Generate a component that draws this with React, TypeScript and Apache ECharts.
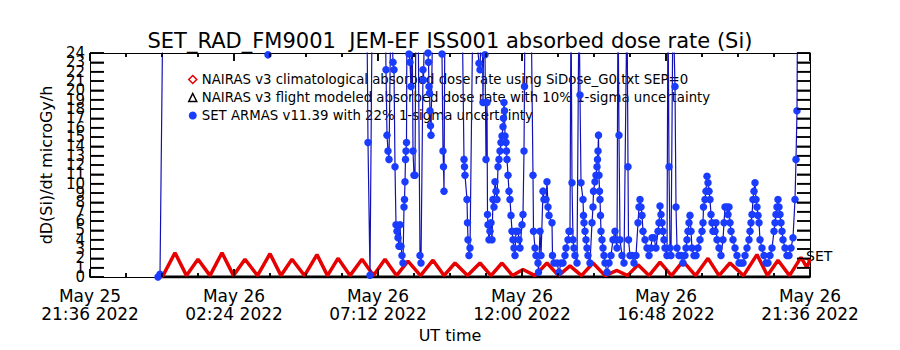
import React, { useEffect, useRef } from "react";
import * as echarts from "echarts";

// Time is stored as minutes after 2022-05-25 21:36 UT
const START_UTC = Date.UTC(2022, 4, 25, 21, 36);
const MONTHS = ["Jan", "Feb", "Mar", "Apr", "May", "Jun", "Jul", "Aug", "Sep", "Oct", "Nov", "Dec"];

const TITLE = "SET_RAD_FM9001  JEM-EF ISS001 absorbed dose rate (Si)";
const Y_NAME = "dD(Si)/dt microGy/h";
const X_NAME = "UT time";
const RED_NAME = "NAIRAS v3 climatological absorbed dose rate using SiDose_G0.txt SEP=0";
const BLACK_NAME = "NAIRAS v3 flight modeled absorbed dose rate with 10% 1-sigma uncertainty";
const BLUE_NAME = "SET ARMAS v11.39 with 22% 1-sigma uncertainty";

// NAIRAS climatological (red)
const redMinutes = [
  140, 146, 170, 193, 216, 240, 264, 287, 310, 335, 360, 382, 404, 429, 454, 475, 496, 520, 544, 567,
  590, 613, 636, 661, 686, 708, 730, 755, 780, 802, 824, 845, 866, 890, 914, 937, 960, 983, 1006, 1030,
  1054, 1075, 1096, 1118, 1140, 1163, 1186, 1211, 1236, 1258, 1280, 1307, 1334, 1355, 1376, 1399, 1422, 1434, 1440,
];
const redValues = [
  0, 0.15, 2.6, 0.15, 1.9, 0.15, 2.6, 0.15, 1.9, 0.15, 2.5, 0.15, 1.9, 0.15, 2.4, 0.15, 2.0, 0.15, 1.9, 0.15,
  1.9, 0.15, 1.7, 0.15, 1.8, 0.15, 1.5, 0.15, 1.5, 0.15, 1.5, 0.15, 0.8, 0.15, 1.5, 0.15, 1.2, 0.15, 1.5, 0.15,
  0.7, 0.15, 1.3, 0.15, 1.6, 0.15, 1.7, 0.15, 2.0, 0.15, 1.5, 0.15, 2.4, 0.15, 1.8, 0.15, 2.1, 1.0, 1.9,
];

// NAIRAS flight modeled (black)
const blackMinutes = [136, 1440];
const blackValues = [0, 0];

// SET ARMAS measured (blue)
const blueMinutes = [
  136, 140, 148, 220, 320, 352, 356, 360, 460, 552, 556, 560, 566, 588,
  592, 594, 596, 598, 602, 606, 608, 610, 612, 614, 616, 618, 620, 622, 624, 626,
  628, 629, 630, 631, 632, 633, 634, 638, 640, 642, 644, 646, 648, 650, 652, 656, 660, 662,
  666, 667, 670, 676, 677, 678, 679, 680, 681, 682, 686, 702, 704, 706, 707, 708, 710,
  744, 748, 749, 750, 754, 755, 756, 758, 760, 766, 778, 780, 784, 786, 788, 790, 792, 794, 795, 796, 798,
  800, 802, 804, 806, 808, 810, 812, 814, 816, 818, 820, 822, 824, 826, 827, 828, 829, 830, 832, 833, 834,
  836, 838, 840, 842, 844, 846, 848, 850, 852, 856, 858, 860, 864, 866, 868, 869, 870, 882,
  886, 887, 890, 892, 896, 897, 900, 902, 906, 908, 912, 914, 916, 918, 924, 925, 928, 934, 938, 942, 946,
  950, 952, 956, 958, 960, 962, 964, 966, 968, 970, 974, 978, 980, 982, 986, 987, 988, 990, 992, 994, 996,
  1000, 1004, 1006, 1007, 1010, 1012, 1014, 1015, 1016, 1017, 1018, 1019, 1020, 1021, 1022, 1024, 1026, 1028,
  1030, 1034, 1038, 1042, 1046, 1050, 1052, 1054, 1056, 1058, 1060, 1064, 1068, 1074, 1076, 1077, 1080, 1084,
  1088, 1092, 1096, 1098, 1100, 1102, 1104, 1106, 1110, 1114, 1118, 1122, 1124, 1128, 1132, 1136, 1138, 1140,
  1142, 1144, 1146, 1148, 1150, 1154, 1156, 1158, 1160, 1162, 1166, 1170, 1172, 1174, 1178, 1182, 1186, 1190,
  1192, 1194, 1196, 1198, 1200, 1202, 1204, 1208, 1212, 1216, 1220, 1224, 1226, 1227, 1230, 1232, 1234, 1236,
  1238, 1240, 1242, 1244, 1246, 1250, 1252, 1254, 1258, 1262, 1266, 1268, 1270, 1274, 1276, 1278, 1280, 1282,
  1286, 1290, 1294, 1298, 1302, 1306, 1310, 1314, 1318, 1320, 1322, 1324, 1326, 1328, 1330, 1332, 1334, 1336,
  1338, 1340, 1344, 1348, 1352, 1356, 1360, 1364, 1368, 1370, 1372, 1374, 1376, 1378, 1380, 1382, 1384, 1386,
  1390, 1394, 1398, 1402, 1406, 1410, 1412, 1414, 1416,
];
const blueValues = [
  0, 0.3, 40, 45, 40, 30, 23.8, 30, 40, 40, 14.4, 0.2, 40, 40,
  22.2, 15.2, 13.5, 12.6, 30, 23, 22.2, 11.8, 5.6, 4.9, 4.2, 3.3, 5.6, 3.3, 2.3, 1.5,
  7.5, 8.3, 10.2, 12.6, 13.5, 14.4, 30, 23.9, 23, 20.4, 30, 13.5, 10.9, 10.9, 30, 30, 2.3, 1.5,
  22.2, 21.1, 30, 24, 23, 20.4, 19.7, 17.8, 16.2, 15.2, 30, 30, 23.9, 13.5, 11.8, 9.2, 30,
  30, 12.6, 11.8, 10.9, 8.3, 5.8, 4, 2.3, 3.1, 30, 22.9, 22.2, 30, 18.7, 30, 23.8, 12.6, 18.7, 6.7, 5.6, 4.0,
  4.9, 5.8, 4.0, 8.3, 7.5, 10.2, 9.2, 8.3, 11.8, 12.6, 13.5, 14.4, 15.1, 16.1, 17, 18.7, 17.8, 15.1, 14.4, 13.5, 12.6,
  10.9, 9.2, 8.3, 6.6, 4.9, 4.0, 3.1, 2.3, 4.9, 4.9, 4.0, 3.1, 5.6, 6.7, 13.5, 20.4, 30, 30,
  10.9, 4.9, 3.1, 2.3, 1.5, 0.5, 4.9, 2.3, 9.2, 8.3, 8.3, 10.2, 7.5, 6.6, 5.8, 2.3, 1.5, 1.5, 0.5, 1.5, 1.5,
  2.3, 3.1, 4, 4.9, 4.9, 30, 10.1, 4.0, 3.1, 2.3, 1.5, 30, 19.5, 10.1, 8.3, 6.6, 5.8, 4.9, 4, 3.1, 2.3,
  1.5, 5.8, 7.5, 9.2, 10.2, 10.9, 11.8, 12.6, 13.5, 15.2, 10.9, 9.2, 8.3, 6.6, 4.9, 4, 3.1, 2.3,
  1.5, 0.5, 1.5, 2.3, 4, 4.9, 4, 3.1, 30, 15.2, 4, 2.3, 1.5, 30, 11.8, 4, 2.3, 2.3,
  1.5, 2.3, 5.8, 7.5, 8.3, 7.5, 6.6, 4.9, 4, 3.1, 2.3, 3.1, 4.2, 4.2, 3.1, 4.9, 5.8, 7.6,
  6.7, 5.8, 4.9, 4, 3.1, 2.3, 30, 11.8, 3.1, 2.3, 30, 20.4, 7.5, 3.1, 2.3, 2.3, 1.5, 2.3,
  3.1, 4, 4.9, 5.8, 6.6, 4.9, 3.1, 2.3, 2.3, 3.1, 4, 4.9, 5.8, 7.5, 8.3, 9.2, 10.8, 10.1,
  9.2, 8.3, 6.7, 5.8, 4.9, 4.9, 5.8, 4, 3.1, 2.3, 4, 5.8, 7.5, 7.5, 6.7, 7.5, 5.8, 4.9,
  4, 3.1, 2.3, 1.5, 1.5, 1.5, 2.3, 3.1, 4, 4.9, 5.8, 6.7, 8.3, 9.2, 10.1, 8.3, 7.5, 6.6,
  5.8, 4, 3.1, 2.3, 1.5, 1.5, 2.3, 3.1, 4.9, 5.8, 6.7, 7.5, 8.3, 7.5, 6.7, 5.8, 4.9, 4,
  3.1, 2.3, 2.3, 3.1, 4.2, 8.3, 12.6, 17.8, 40,
];

// Axis ticks and labels
const yTickValues = [0, 1, 2, 3, 4, 5, 6, 7, 8, 9, 10, 11, 12, 13, 14, 15, 16, 17, 18, 19, 20, 21, 22, 23, 24];
const xMajorTicks = [0, 288, 576, 864, 1152, 1440];
const xMinorTicks = [72, 144, 216, 360, 432, 504, 648, 720, 792, 936, 1008, 1080, 1224, 1296, 1368];

const X_MIN = 0;
const X_MAX = 1440;
const X_STEP = 288;
const Y_MIN = 0;
const Y_MAX = 24;
const Y_STEP = 1;

const FONT = "DejaVu Sans";

function zip(a: number[], b: number[]) {
  return a.map((v, i) => [v, b[i]]);
}

function fmtTime(v: number) {
  const d = new Date(START_UTC + v * 60000);
  const p = (n: number) => String(n).padStart(2, "0");
  return `${MONTHS[d.getUTCMonth()]} ${p(d.getUTCDate())}\n${p(d.getUTCHours())}:${p(d.getUTCMinutes())} ${d.getUTCFullYear()}`;
}

// one custom series per tick set; each item draws a single line from an axis point
function tickSeries(name: string, points: number[][], dx: number, dy: number) {
  return {
    type: "custom",
    name,
    silent: true,
    clip: false,
    z: 10,
    data: points,
    renderItem: (_p: any, api: any) => {
      const c = api.coord([api.value(0), api.value(1)]);
      return {
        type: "line",
        shape: { x1: c[0], y1: c[1], x2: c[0] + dx, y2: c[1] + dy },
        style: { stroke: "#000", lineWidth: 1.5 },
      };
    },
  };
}

export default function App() {
  const ref = useRef<HTMLDivElement>(null);
  useEffect(() => {
    document.body.style.margin = "0";
    if (!ref.current) return;
    const chart = echarts.init(ref.current, undefined, { renderer: "svg" });
    const axisLine = { show: true, onZero: false, lineStyle: { color: "#000", width: 1 } };
    const xCommon = {
      type: "value" as const,
      min: X_MIN,
      max: X_MAX,
      interval: X_STEP,
      axisLine,
      splitLine: { show: false },
      axisTick: { show: true, inside: true, length: 8, lineStyle: { color: "#000", width: 1.5 } },
      minorTick: { show: true, splitNumber: 4, length: 4, lineStyle: { color: "#000", width: 1.5 } },
    };
    const yCommon = {
      type: "value" as const,
      min: Y_MIN,
      max: Y_MAX,
      interval: Y_STEP,
      axisLine,
      splitLine: { show: false },
    };
    const yLabelSeries = {
      type: "custom",
      name: "ylabels",
      silent: true,
      clip: false,
      z: 10,
      data: yTickValues.map((v) => [X_MIN, v]),
      renderItem: (_p: any, api: any) => {
        const v = api.value(1);
        const l = api.coord([X_MIN, v]);
        return {
          type: "text",
          x: l[0] - 5,
          y: l[1],
          style: { text: String(v), fontFamily: FONT, fontSize: 15, fill: "#000", align: "right", verticalAlign: "middle" },
        };
      },
    };
    chart.setOption({
      animation: false,
      backgroundColor: "#fff",
      textStyle: { fontFamily: FONT, color: "#000" },
      title: {
        text: TITLE,
        left: "center",
        top: 25,
        textStyle: { fontFamily: FONT, fontSize: 21, fontWeight: "normal", color: "#000" },
      },
      legend: {
        orient: "vertical",
        left: 188,
        top: 73,
        padding: 0,
        itemGap: 5,
        itemWidth: 8,
        itemHeight: 8,
        textStyle: { fontFamily: FONT, fontSize: 13.3, color: "#000" },
        data: [
          { name: RED_NAME, icon: "diamond", itemStyle: { color: "#fff", borderColor: "#e00000", borderWidth: 1.5 } },
          { name: BLACK_NAME, icon: "triangle", itemStyle: { color: "#fff", borderColor: "#000", borderWidth: 1.5 } },
          { name: BLUE_NAME, icon: "circle", itemStyle: { color: "#1a3cff" } },
        ],
      },
      grid: { left: 90, right: 90, top: 53, bottom: 73, outerBoundsMode: "none" },
      xAxis: [
        {
          ...xCommon,
          position: "bottom",
          name: X_NAME,
          nameLocation: "middle",
          nameGap: 50,
          nameTextStyle: { fontFamily: FONT, fontSize: 16, color: "#000" },
          axisLabel: {
            show: true,
            fontFamily: FONT,
            fontSize: 17,
            lineHeight: 18,
            color: "#000",
            margin: 10,
            formatter: fmtTime,
          },
        },
        { ...xCommon, position: "top", axisLabel: { show: false } },
      ],
      yAxis: [
        {
          ...yCommon,
          position: "left",
          name: Y_NAME,
          nameLocation: "middle",
          nameGap: 36,
          nameTextStyle: { fontFamily: FONT, fontSize: 16, color: "#000" },
          axisTick: { show: true, inside: true, length: 14, lineStyle: { color: "#000", width: 1.5 } },
          axisLabel: { show: false },
        },
        {
          ...yCommon,
          position: "right",
          axisTick: { show: true, inside: true, length: 13, lineStyle: { color: "#000", width: 1.5 } },
          axisLabel: { show: false },
        },
      ],
      graphic: [
        {
          type: "text",
          left: 806,
          top: 249,
          style: { text: "SET", fontFamily: FONT, fontSize: 14, fill: "#000" },
        },
      ],
      series: [
        {
          name: RED_NAME,
          type: "line",
          data: zip(redMinutes, redValues),
          symbol: "none",
          clip: true,
          lineStyle: { color: "#e60000", width: 3.5 },
          itemStyle: { color: "#e60000" },
          z: 3,
        },
        {
          name: BLACK_NAME,
          type: "line",
          data: zip(blackMinutes, blackValues),
          symbol: "none",
          clip: true,
          lineStyle: { color: "#000", width: 3 },
          itemStyle: { color: "#000" },
          z: 2,
        },
        {
          name: BLUE_NAME,
          type: "line",
          data: zip(blueMinutes, blueValues),
          symbol: "circle",
          symbolSize: 7.5,
          clip: true,
          lineStyle: { color: "#1212b4", width: 1.2 },
          itemStyle: { color: "#1a3cff" },
          z: 4,
        },
        yLabelSeries,
        tickSeries("ytickL", yTickValues.map((v) => [X_MIN, v]), 14, 0),
        tickSeries("ytickR", yTickValues.map((v) => [X_MAX, v]), -13, 0),
        tickSeries("xmajB", xMajorTicks.map((m) => [m, Y_MIN]), 0, -8),
        tickSeries("xmajT", xMajorTicks.map((m) => [m, Y_MAX]), 0, 8),
        tickSeries("xminB", xMinorTicks.map((m) => [m, Y_MIN]), 0, -4),
        tickSeries("xminT", xMinorTicks.map((m) => [m, Y_MAX]), 0, 4),
      ],
    });
    return () => chart.dispose();
  }, []);
  return <div ref={ref} style={{ width: 900, height: 350 }} />;
}
